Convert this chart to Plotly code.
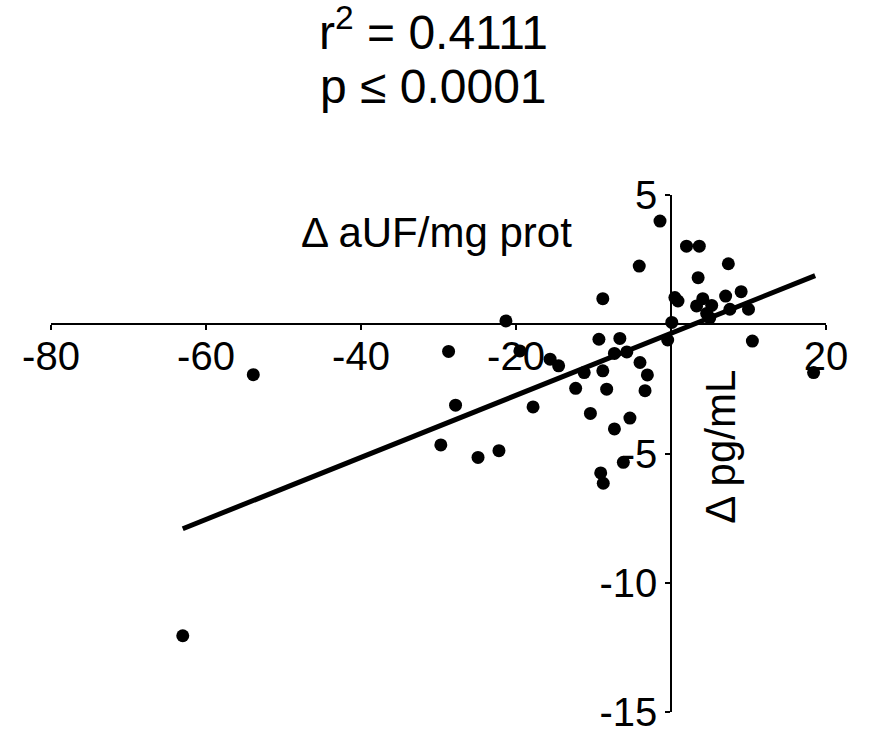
import numpy as np
import plotly.graph_objects as go

# Data
delta_auf = [-63.0, -53.9, -29.7, -28.7, -27.8, -24.9, -22.2, -21.3, -19.5, -17.8,
             -15.6, -14.5, -12.3, -11.2, -10.4, -9.3, -9.07, -8.8, -8.8, -8.74,
             -8.3, -7.3, -7.3, -6.6, -6.15, -5.7, -5.3, -4.1, -4.0, -3.35,
             -3.05, -1.42, -0.43, 0.1, 0.5, 0.9, 2.0, 3.3, 3.5, 3.65,
             4.1, 4.6, 5.0, 5.25, 7.05, 7.4, 7.6, 9.05, 10.0, 10.5, 18.4]
delta_pg = [-12.05, -1.95, -4.67, -1.05, -3.13, -5.15, -4.89, 0.13, -1.03, -3.2,
            -1.35, -1.61, -2.48, -1.87, -3.45, -0.58, -5.75, 0.99, -1.8, -6.15,
            -2.51, -1.13, -4.05, -0.55, -5.34, -1.07, -3.63, 2.25, -1.48, -2.57,
            -1.96, 3.99, -0.61, 0.07, 1.03, 0.9, 3.02, 0.71, 1.8, 3.02,
            0.99, 0.42, 0.25, 0.73, 1.09, 2.34, 0.58, 1.26, 0.58, -0.65, -1.87]

fit_x = [-63.0, 18.6]
fit_slope = 0.12
fit_intercept = -0.35

x_ticks = [-80, -60, -40, -20, 20]
y_ticks = [5, -5, -10, -15]
x_range = [-80, 20]
y_range = [-15, 5]

title_line1 = "r<sup>2</sup> = 0.4111"
title_line2 = "p ≤ 0.0001"
x_title = "Δ aUF/mg prot"
y_title = "Δ pg/mL"

FONT = "Arial, 'Liberation Sans', sans-serif"

fx = np.array(fit_x)
fy = fit_slope * fx + fit_intercept

fig = go.Figure()
fig.add_trace(go.Scatter(x=fx, y=fy, mode="lines",
                         line=dict(color="black", width=5),
                         showlegend=False, hoverinfo="skip"))
fig.add_trace(go.Scatter(x=delta_auf, y=delta_pg, mode="markers",
                         marker=dict(color="black", size=13),
                         showlegend=False))

x_pos = (0 - y_range[0]) / (y_range[1] - y_range[0])
y_pos = (0 - x_range[0]) / (x_range[1] - x_range[0])

PLOT_TOP = 195
PLOT_H = 732 - 195 - 20

def paper_y(px):
    return 1 + (PLOT_TOP - px) / PLOT_H

fig.update_layout(
    width=870, height=732,
    margin=dict(l=51, r=44, t=195, b=20, autoexpand=False),
    plot_bgcolor="white", paper_bgcolor="white",
    font=dict(family=FONT, color="black", size=40),
    xaxis=dict(range=x_range, anchor="free", position=x_pos, automargin=False,
               tickvals=x_ticks, ticktext=[str(v) for v in x_ticks],
               showline=True, linecolor="black", linewidth=1.5,
               ticks="outside", ticklen=5, tickwidth=1.5, tickcolor="black",
               showgrid=False, zeroline=False, ticklabeloverflow="allow",
               ticklabelstandoff=-8,
               tickfont=dict(size=40, family=FONT, color="black")),
    yaxis=dict(range=y_range, anchor="free", position=y_pos, automargin=False,
               tickvals=y_ticks, ticktext=[str(v) for v in y_ticks],
               showline=True, linecolor="black", linewidth=1.5,
               ticks="outside", ticklen=5, tickwidth=1.5, tickcolor="black",
               showgrid=False, zeroline=False, ticklabeloverflow="allow",
               tickfont=dict(size=40, family=FONT, color="black")),
    annotations=[
        dict(text=title_line1, x=0.493, y=paper_y(29), xref="paper", yref="paper",
             xanchor="center", yanchor="middle", showarrow=False,
             font=dict(size=48, family=FONT, color="black")),
        dict(text=title_line2, x=0.493, y=paper_y(86), xref="paper", yref="paper",
             xanchor="center", yanchor="middle", showarrow=False,
             font=dict(size=48, family=FONT, color="black")),
        dict(text=x_title, x=-30.2, y=3.55, xref="x", yref="y",
             xanchor="center", yanchor="middle", showarrow=False,
             font=dict(size=42, family=FONT, color="black")),
        dict(text=y_title, x=6.3, y=-4.75, xref="x", yref="y",
             xanchor="center", yanchor="middle", showarrow=False, textangle=-90,
             font=dict(size=42, family=FONT, color="black")),
    ],
)

fig.write_html("out.html")
